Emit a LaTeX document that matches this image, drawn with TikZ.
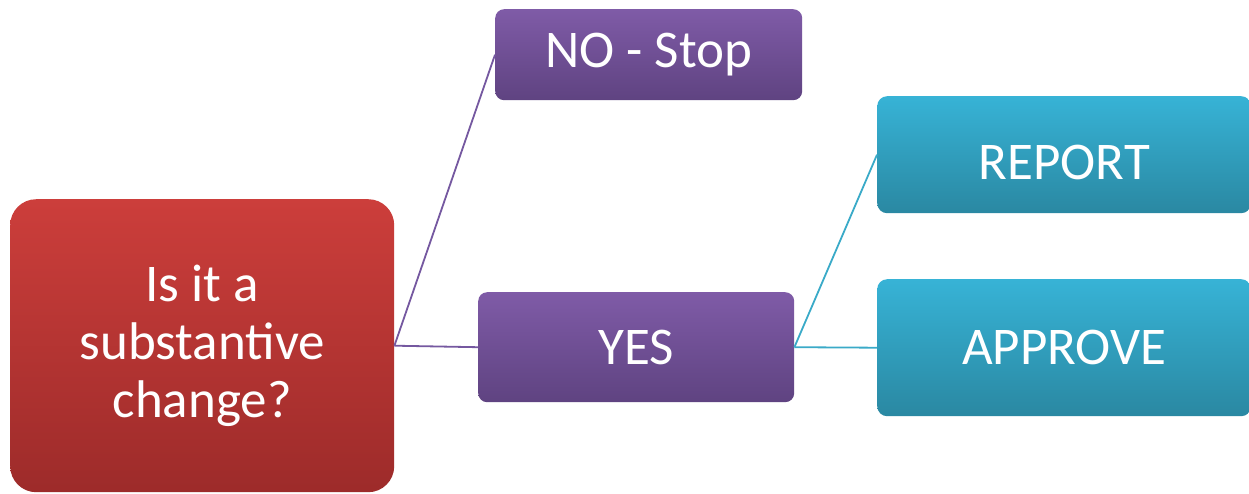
\documentclass[tikz,border=0pt]{standalone}
\usepackage{fontspec}
\setmainfont{Carlito}
\definecolor{redtop}{HTML}{CC3E3B}
\definecolor{redbot}{HTML}{9D2B2A}
\definecolor{purtop}{HTML}{7F5BA7}
\definecolor{purbot}{HTML}{5F4381}
\definecolor{tealtop}{HTML}{37B3D6}
\definecolor{tealbot}{HTML}{2A88A2}
\definecolor{purline}{HTML}{7558A0}
\definecolor{tealline}{HTML}{3AAAC8}
\tikzset{
  box/.style={anchor=north west, inner sep=0pt, align=center, text=white,
    font=\fontsize{53}{58}\selectfont},
  redbox/.style={box, rounded corners=26pt, top color=redtop, bottom color=redbot},
  purbox/.style={box, rounded corners=9pt, top color=purtop, bottom color=purbot},
  tealbox/.style={box, rounded corners=10pt, top color=tealtop, bottom color=tealbot},
  purcon/.style={draw=purline, line width=1.8pt},
  tealcon/.style={draw=tealline, line width=1.8pt}
}
\begin{document}
\begin{tikzpicture}[x=1pt,y=-1pt]
\useasboundingbox[fill=white] (0,0) rectangle (1249,493);
\node[redbox, minimum width=384pt, minimum height=293pt] (q) at (10,199) {Is it a\\substantive\\change?};
\node[purbox, minimum width=307pt, minimum height=91pt] (no) at (495,9) {NO - Stop};
\node[purbox, minimum width=316pt, minimum height=110pt] (yes) at (478,292) {YES};
\node[tealbox, minimum width=374pt, minimum height=117pt] (rep) at (877,96) {\raisebox{-25pt}[0pt][0pt]{REPORT}};
\node[tealbox, minimum width=374pt, minimum height=137pt] (app) at (877,279) {APPROVE};
\draw[purcon] (q.east) -- (no.west);
\draw[purcon] (q.east) -- (yes.west);
\draw[tealcon] (yes.east) -- (rep.west);
\draw[tealcon] (yes.east) -- (app.west);
\end{tikzpicture}
\end{document}
